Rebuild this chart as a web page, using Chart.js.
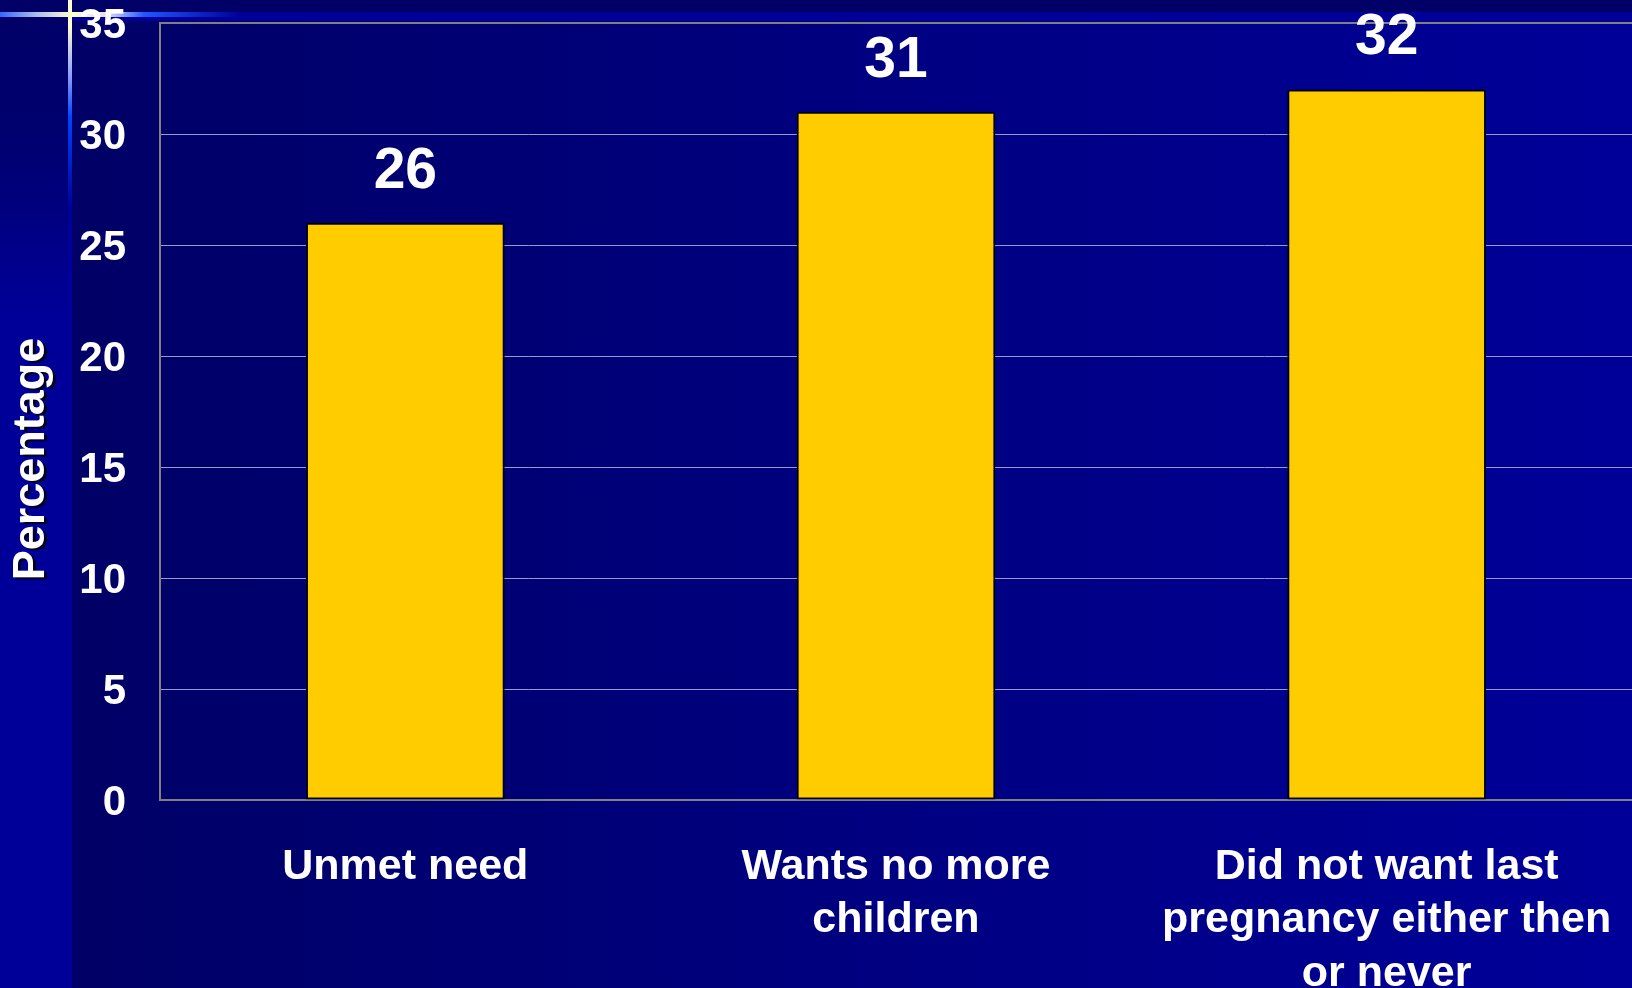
<!DOCTYPE html>
<html>
<head>
<meta charset="utf-8">
<script src="https://cdn.jsdelivr.net/npm/chart.js@4.4.1/dist/chart.umd.min.js"></script>
<style>
  html, body { margin: 0; padding: 0; background: #000066; }
  #wrap { width: 1632px; height: 988px; position: relative; }
</style>
</head>
<body>
<div id="wrap"><canvas id="c" width="1632" height="988"></canvas></div>
<script>
const categories = [
  ["Unmet need"],
  ["Wants no more", "children"],
  ["Did not want last", "pregnancy either then", "or never"]
];
const values = [26, 31, 32];
const yTicks = [0, 5, 10, 15, 20, 25, 30, 35];
const yTitle = "Percentage";

const FONT = "'Liberation Sans', Arial, Helvetica, sans-serif";

const backgroundPlugin = {
  id: 'slideBackground',
  beforeDraw(chart) {
    const ctx = chart.ctx;
    const W = chart.width, H = chart.height;
    ctx.save();
    let g = ctx.createLinearGradient(72, 0, W, 0);
    g.addColorStop(0, '#000066');
    g.addColorStop(1, '#000099');
    ctx.fillStyle = g;
    ctx.fillRect(0, 0, W, H);
    g = ctx.createLinearGradient(0, 0, 0, 320);
    g.addColorStop(0, '#000066');
    g.addColorStop(0.45, '#000070');
    g.addColorStop(1, '#000099');
    ctx.fillStyle = g;
    ctx.fillRect(0, 0, 68, H);
    g = ctx.createLinearGradient(0, 0, 0, 260);
    g.addColorStop(0, '#ffffcc');
    g.addColorStop(0.1, '#ffffcc');
    g.addColorStop(0.3, '#8899ff');
    g.addColorStop(0.45, '#0044ff');
    g.addColorStop(0.8, '#000099');
    g.addColorStop(1, '#00009c');
    ctx.fillStyle = g;
    ctx.fillRect(68, 0, 4, 260);
    ctx.fillStyle = '#00009c';
    ctx.fillRect(68, 260, 4, H - 260);
    ctx.fillStyle = '#000066';
    ctx.fillRect(72, 0, W - 72, 12);
    ctx.fillStyle = '#000099';
    ctx.fillRect(72, 12, W - 72, 9);
    g = ctx.createLinearGradient(0, 0, 240, 0);
    g.addColorStop(0, '#3366ff');
    g.addColorStop(0.15, '#aabbee');
    g.addColorStop(0.3, '#ffffcc');
    g.addColorStop(0.45, '#ddddee');
    g.addColorStop(0.6, '#2255ff');
    g.addColorStop(1, '#000099');
    ctx.fillStyle = g;
    ctx.fillRect(0, 12, 240, 5);
    ctx.restore();
  }
};

const labelPlugin = {
  id: 'barValueLabels',
  afterDatasetsDraw(chart) {
    const ctx = chart.ctx;
    const meta = chart.getDatasetMeta(0);
    ctx.save();
    ctx.font = "bold 57px " + FONT;
    ctx.fillStyle = '#ffffff';
    ctx.textAlign = 'center';
    ctx.textBaseline = 'middle';
    meta.data.forEach((bar, i) => {
      ctx.fillText(String(values[i]), bar.x, bar.y - 51);
    });
    ctx.restore();
  },
  afterDraw(chart) {
    const ctx = chart.ctx;
    ctx.save();
    ctx.translate(32, 459);
    ctx.rotate(-Math.PI / 2);
    ctx.font = "bold 45px " + FONT;
    ctx.textAlign = 'center';
    ctx.textBaseline = 'middle';
    ctx.shadowColor = '#000022';
    ctx.shadowOffsetX = 3;
    ctx.shadowOffsetY = 2;
    ctx.shadowBlur = 0;
    ctx.fillStyle = '#ffffff';
    ctx.fillText(yTitle, 0, 0);
    ctx.restore();
  }
};

new Chart(document.getElementById('c'), {
  type: 'bar',
  data: {
    labels: categories,
    datasets: [{
      data: values,
      backgroundColor: '#ffcc00',
      borderColor: '#000000',
      borderWidth: 2,
      borderSkipped: false,
      barPercentage: 0.405,
      categoryPercentage: 1.0
    }]
  },
  options: {
    responsive: false,
    animation: false,
    devicePixelRatio: 1,
    layout: { padding: { top: 23, left: 0, right: 0, bottom: 0 } },
    plugins: {
      legend: { display: false },
      tooltip: { enabled: false },
      title: { display: false }
    },
    scales: {
      x: {
        grid: { display: true, color: 'transparent', drawTicks: true, tickLength: 40, tickColor: 'transparent' },
        border: { display: true, color: '#808080', width: 2 },
        ticks: {
          color: '#ffffff',
          font: { family: FONT, size: 43, weight: 'bold', lineHeight: 1.25 },
          padding: 0,
          maxRotation: 0,
          minRotation: 0,
          autoSkip: false
        },
        afterFit(scale) { scale.height = 188; }
      },
      y: {
        min: 0,
        max: 35,
        afterBuildTicks(scale) { scale.ticks = yTicks.map(v => ({ value: v })); },
        grid: {
          drawTicks: true,
          tickLength: 34,
          tickColor: 'transparent',
          color: (c) => (c.tick && c.tick.value === 35) ? '#808080' : '#9999cc',
          lineWidth: (c) => (c.tick && c.tick.value === 35) ? 2 : 1
        },
        border: { display: true, color: '#808080', width: 2 },
        ticks: {
          color: '#ffffff',
          font: { family: FONT, size: 42, weight: 'bold', lineHeight: 1 },
          padding: 0,
          labelOffset: 3
        },
        afterFit(scale) { scale.width = 160; }
      }
    }
  },
  plugins: [backgroundPlugin, labelPlugin]
});
</script>
</body>
</html>
